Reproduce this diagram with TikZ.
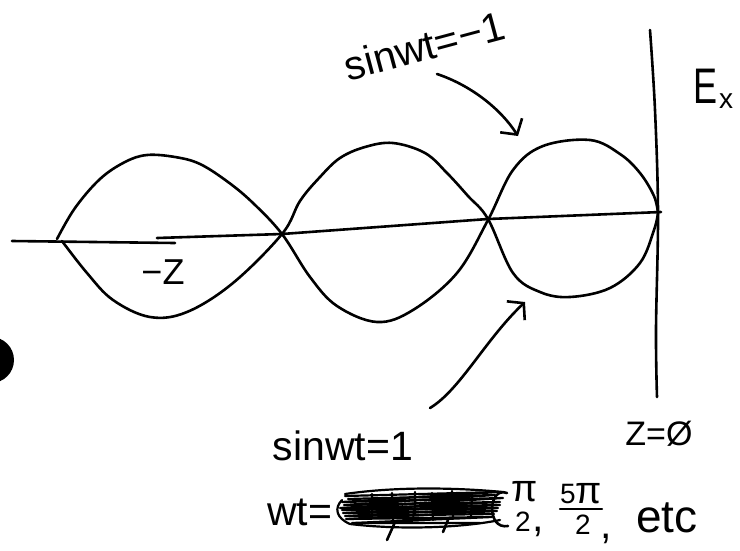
\documentclass[tikz,border=0pt]{standalone}
\usepackage{fontspec}
\setmainfont{Liberation Sans}
\usetikzlibrary{arrows.meta}
\begin{document}
\begin{tikzpicture}[x=1pt,y=-1pt,
  pen/.style={line width=2.6pt,line cap=round,line join=round},
  scrib/.style={line width=2.2pt,line cap=round,line join=round},
  arr/.style={pen,-{Straight Barb[length=11pt,width=26pt,line width=2.6pt]}},
  lbl/.style={inner sep=0pt,font=\fontsize{41}{44}\selectfont},
  sml/.style={inner sep=0pt,font=\fontsize{34}{38}\selectfont},
  frc/.style={inner sep=0pt,anchor=base,font=\fontsize{28}{28}\selectfont}]
\useasboundingbox (0,0) rectangle (740,550);
% hole punch
\fill (-9,360) circle[radius=23];
% axis
\draw[pen] (12,241) -- (175,243);
\draw[pen] (157,238) -- (282,234) -- (488,219) -- (661,212);
% vertical line
\draw[pen] plot[smooth,tension=0.6] coordinates {(650,30) (655,110) (658,213) (656,330) (657,397)};
% curve A
\draw[pen] plot[smooth,tension=0.6] coordinates {(57,239) (75,208) (100,179) (125,162) (147,155) (175,157) (200,164) (228,182) (253,203) (282,234) (310,277) (337,306) (377,322) (413,310) (457,273) (488,220) (513,170) (543,146) (590,140) (620,154) (640,173) (654,196) (658,213)};
% curve B
\draw[pen] plot[smooth,tension=0.6] coordinates {(62,241) (87,273) (113,300) (150,317) (187,312) (233,283) (282,234) (300,201) (320,177) (340,158) (365,147) (393,143) (425,153) (447,173) (468,196) (488,219) (513,273) (540,292) (570,297) (610,288) (640,263) (654,230) (658,213)};
% labels
\node[lbl,rotate=15,anchor=base] (sm1) at (428,60) {sinwt=−1};
\node[lbl] (sp1) at (343,446) {sinwt=1};
\node[sml,font=\fontsize{36}{38}\selectfont] (mz) at (163,272) {−Z};
\node[inner sep=0pt,anchor=base west,font=\fontsize{50}{50}\selectfont] (ex) at (693,103) {\scalebox{0.72}[1]{E}};
\node[inner sep=0pt,anchor=base west,font=\fontsize{28}{28}\selectfont] (exs) at (719,108) {x};
\node[sml] (z0) at (659,434) {Z=Ø};
% bottom row
\node[lbl,anchor=base west] (wt) at (267,525) {wt=};
\node[frc,font=\fontsize{38}{38}\selectfont] (f1n) at (525,501) {π};
\node[frc] (f1d) at (523,531) {2};
\node[lbl,anchor=base] (c1) at (538,531) {,};
\node[frc] (f2n) at (581,503) {5{\fontsize{38}{38}\selectfont π}};
\draw[line width=2pt,line cap=round] ([yshift=-5pt]f2n.south west) -- ([yshift=-5pt]f2n.south east);
\node[frc] (f2d) at (583,534) {2};
\node[lbl,anchor=base] (c2) at (606,538) {,};
\node[inner sep=0pt,anchor=base west,font=\fontsize{46}{48}\selectfont] (etc) at (636,532) {etc};
% crossed-out text
\draw[scrib] (345,496) -- (498,492) -- (342,502) -- (503,498) -- (340,508) -- (500,505) -- (343,513) -- (497,511) -- (346,519) -- (492,517) -- (352,523) -- (480,523);
\draw[scrib] (348,499) -- (495,495) -- (344,505) -- (500,502) -- (342,510) -- (498,508) -- (345,516) -- (494,514);
\draw[scrib] (342,500) .. controls (334,508) and (336,518) .. (350,524) .. controls (400,530) and (460,528) .. (500,520);
\draw[scrib] (345,494) .. controls (400,486) and (460,488) .. (503,492);
\draw[scrib] (372,494) -- (372,518) (392,493) -- (393,520) (415,492) -- (415,515) (432,493) -- (433,520) (452,491) -- (453,517) (472,493) -- (471,518);
\draw[pen] (387,540) -- (395,522) (443,532) -- (448,520);
\draw[pen] (507,493) .. controls (488,486) and (486,530) .. (508,526);
% arrows
\coordinate (a1s) at (437,74);
\coordinate (a1e) at (518,136);
\draw[arr] (a1s) .. controls (470,85) and (500,108) .. (a1e);
\coordinate (a2s) at (430,408);
\coordinate (a2e) at (525,302);
\draw[arr] (a2s) .. controls (460,390) and (485,340) .. (a2e);
\end{tikzpicture}
\end{document}
